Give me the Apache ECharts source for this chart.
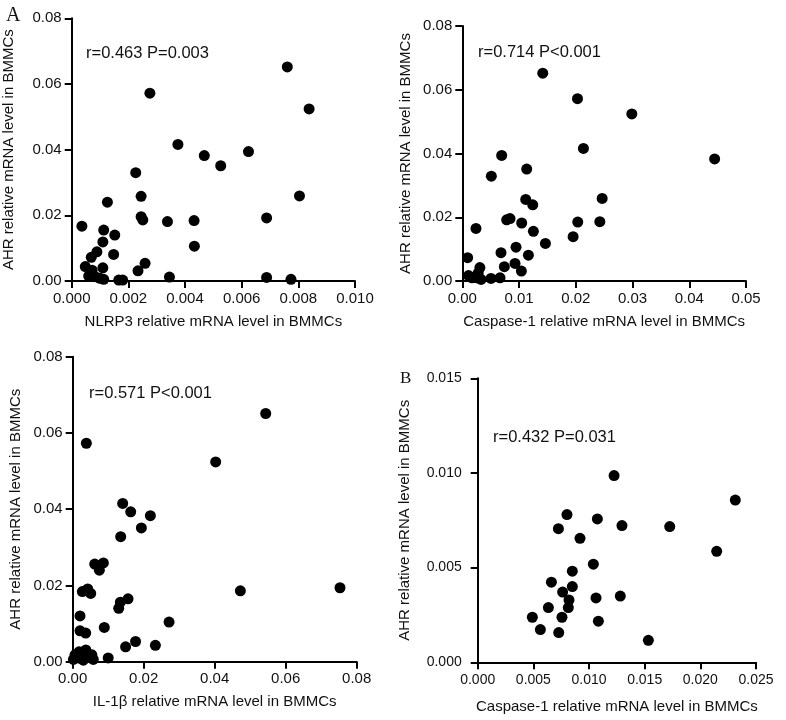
<!DOCTYPE html>
<html>
<head>
<meta charset="utf-8">
<script src="https://cdn.jsdelivr.net/npm/echarts@6/dist/echarts.min.js"></script>
<style>
html,body{margin:0;padding:0;background:#fff;}
#chart{width:786px;height:720px;}
</style>
</head>
<body>
<div id="chart"></div>
<script>
// ---- Data ----
// Panel A1: NLRP3 (x) vs AHR (y)
const nlrp3X = [0.00036,0.00113,0.00152,0.00110,0.00089,0.00069,0.00148,0.00048,0.00110,0.00072,0.00060,0.00083,0.00100,0.00113,0.00166,0.00180,0.00126,0.00226,0.00245,0.00245,0.00251,0.00234,0.00259,0.00276,0.00338,0.00345,0.00375,0.00432,0.00433,0.00468,0.00526,0.00624,0.00688,0.00688,0.00761,0.00774,0.00804,0.00838];
const nlrp3Y = [0.0167,0.0155,0.0140,0.0119,0.0089,0.0072,0.0081,0.0044,0.0040,0.0033,0.0015,0.0013,0.0008,0.0005,0.0003,0.0003,0.0240,0.0330,0.0258,0.0196,0.0186,0.0031,0.0054,0.0572,0.0181,0.0012,0.0416,0.0184,0.0106,0.0382,0.0351,0.0394,0.0192,0.0011,0.0652,0.0005,0.0259,0.0524];

// Panel A2: Caspase-1 (x) vs AHR (y)
const casp1X = [0.01418,0.0203,0.02988,0.02135,0.04447,0.00694,0.01135,0.00512,0.01118,0.01241,0.02465,0.00782,0.00841,0.01047,0.02035,0.02424,0.00241,0.01253,0.01953,0.01465,0.00947,0.00682,0.01165,0.00094,0.00929,0.00741,0.01041,0.0031,0.0028,0.0011,0.0017,0.0025,0.0033,0.00506,0.00665];
const casp1Y = [0.0652,0.0572,0.0524,0.0416,0.0383,0.0394,0.0351,0.0329,0.0256,0.0239,0.0259,0.0192,0.0196,0.0182,0.0185,0.0186,0.0165,0.0156,0.0139,0.0118,0.0106,0.0089,0.0081,0.0073,0.0055,0.0045,0.0031,0.0042,0.0025,0.0017,0.0010,0.0010,0.0005,0.0008,0.0010];

// Panel A3: IL-1beta (x) vs AHR (y)
const il1bX = [0.05437,0.04028,0.00385,0.01408,0.01634,0.02188,0.01934,0.01352,0.0062,0.00864,0.00751,0.00272,0.00423,0.00507,0.04723,0.0753,0.01343,0.01296,0.01559,0.00206,0.00206,0.00366,0.0089,0.02714,0.0177,0.0149,0.02329,0.0100,0.00065,0.0018,0.0037,0.0021,0.0002,0.0044,0.0054,0.0058,0.0030];
const il1bY = [0.0651,0.0524,0.0573,0.0415,0.0393,0.0383,0.0351,0.0328,0.0256,0.0259,0.0240,0.0184,0.0191,0.0179,0.0186,0.0194,0.0156,0.0140,0.0165,0.0120,0.0081,0.0075,0.0090,0.0104,0.0053,0.0039,0.0043,0.0010,0.0018,0.0026,0.0031,0.0009,0.0006,0.0013,0.0018,0.0006,0.0004];

// Panel B: Caspase-1 (x) vs AHR (y)
const bCaspX = [0.01225,0.02314,0.00802,0.01075,0.00725,0.01296,0.01725,0.00919,0.02147,0.01039,0.0085,0.00662,0.00763,0.0085,0.0082,0.01063,0.01281,0.00635,0.00814,0.00491,0.00757,0.01084,0.00563,0.00728,0.01533];
const bCaspY = [0.00986,0.00857,0.0078,0.00757,0.00706,0.00722,0.00717,0.00655,0.00586,0.00518,0.00481,0.00423,0.00371,0.0040,0.00329,0.0034,0.0035,0.00289,0.00289,0.00238,0.00238,0.00217,0.00173,0.00157,0.00116];

// Tick labels
const ticksA1x = ['0.000','0.002','0.004','0.006','0.008','0.010'];
const ticksA1y = ['0.00','0.02','0.04','0.06','0.08'];
const ticksA2x = ['0.00','0.01','0.02','0.03','0.04','0.05'];
const ticksA2y = ['0.00','0.02','0.04','0.06','0.08'];
const ticksA3x = ['0.00','0.02','0.04','0.06','0.08'];
const ticksA3y = ['0.00','0.02','0.04','0.06','0.08'];
const ticksBx = ['0.000','0.005','0.010','0.015','0.020','0.025'];
const ticksBy = ['0.000','0.005','0.010','0.015'];

// Texts
const yTitle = 'AHR relative mRNA level in BMMCs';
const xTitles = ['NLRP3 relative mRNA level in BMMCs','Caspase-1 relative mRNA level in BMMCs','IL-1\u03b2 relative mRNA level in BMMCs','Caspase-1 relative mRNA level in BMMCs'];
const stats = ['r=0.463 P=0.003','r=0.714 P<0.001','r=0.571 P<0.001','r=0.432 P=0.031'];

// ---- Chart ----
const FONT = '"Liberation Sans", Arial, sans-serif';
const SERIF = '"Liberation Serif", "Times New Roman", serif';
const zip = (a, b) => a.map((v, i) => [v, b[i]]);
const fmt = (labels) => (v) => {
  for (const s of labels) { if (Math.abs(parseFloat(s) - v) < 1e-9) return s; }
  return '';
};
function axisCommon(fs, margin) {
  return {
    axisLine: {show: true, lineStyle: {color: '#000', width: 2}},
    axisTick: {show: true, inside: false, length: 7, lineStyle: {color: '#000', width: 2}},
    axisLabel: {color: '#111', fontSize: fs, fontFamily: FONT, margin: margin},
    splitLine: {show: false},
    nameTextStyle: {color: '#111', fontSize: 15, fontFamily: FONT},
    nameLocation: 'middle'
  };
}
const grids = [
  {left: 71.7, top: 18.3, width: 283.3, height: 262.7},
  {left: 462.3, top: 26, width: 283.7, height: 255},
  {left: 72.7, top: 356.7, width: 284, height: 305},
  {left: 477.7, top: 378.3, width: 278.3, height: 284}
];
const xSpecs = [
  {min: 0, max: 0.010, interval: 0.002, labels: ticksA1x, gap: 33, fs: 15, margin: 10},
  {min: 0, max: 0.05, interval: 0.01, labels: ticksA2x, gap: 33, fs: 15, margin: 10},
  {min: 0, max: 0.08, interval: 0.02, labels: ticksA3x, gap: 33, fs: 15, margin: 10},
  {min: 0, max: 0.025, interval: 0.005, labels: ticksBx, gap: 37, fs: 14, margin: 11}
];
const ySpecs = [
  {min: 0, max: 0.08, interval: 0.02, labels: ticksA1y, gap: 55, fs: 15, margin: 10},
  {min: 0, max: 0.08, interval: 0.02, labels: ticksA2y, gap: 49, fs: 15, margin: 10},
  {min: 0, max: 0.08, interval: 0.02, labels: ticksA3y, gap: 49, fs: 15, margin: 10},
  {min: 0, max: 0.015, interval: 0.005, labels: ticksBy, gap: 65, fs: 14, margin: 16}
];
const datasets = [zip(nlrp3X, nlrp3Y), zip(casp1X, casp1Y), zip(il1bX, il1bY), zip(bCaspX, bCaspY)];

const option = {
  backgroundColor: '#fff',
  animation: false,
  grid: grids.map(g => Object.assign({containLabel: false}, g)),
  xAxis: xSpecs.map((s, i) => {
    const a = axisCommon(s.fs, s.margin);
    return Object.assign(a, {
      type: 'value', gridIndex: i, min: s.min, max: s.max, interval: s.interval,
      name: xTitles[i], nameGap: s.gap,
      axisLabel: Object.assign(a.axisLabel, {formatter: fmt(s.labels), showMinLabel: true, showMaxLabel: true})
    });
  }),
  yAxis: ySpecs.map((s, i) => {
    const a = axisCommon(s.fs, s.margin);
    return Object.assign(a, {
      type: 'value', gridIndex: i, min: s.min, max: s.max, interval: s.interval,
      name: yTitle, nameGap: s.gap, nameRotate: 90,
      axisLabel: Object.assign(a.axisLabel, {formatter: fmt(s.labels), showMinLabel: true, showMaxLabel: true})
    });
  }),
  series: datasets.map((d, i) => ({
    type: 'scatter', xAxisIndex: i, yAxisIndex: i, data: d,
    symbol: 'circle', symbolSize: 11,
    itemStyle: {color: '#000', opacity: 1},
    clip: false
  })),
  graphic: [
    {type: 'text', x: 86, y: 53.3, style: {text: stats[0], fontSize: 16.5, fontFamily: FONT, fill: '#111', verticalAlign: 'middle'}},
    {type: 'text', x: 478, y: 52.7, style: {text: stats[1], fontSize: 16.5, fontFamily: FONT, fill: '#111', verticalAlign: 'middle'}},
    {type: 'text', x: 89, y: 393.3, style: {text: stats[2], fontSize: 16.5, fontFamily: FONT, fill: '#111', verticalAlign: 'middle'}},
    {type: 'text', x: 493, y: 437.3, style: {text: stats[3], fontSize: 16.5, fontFamily: FONT, fill: '#111', verticalAlign: 'middle'}},
    {type: 'text', x: 6, y: 16, style: {text: 'A', fontSize: 20, fontFamily: SERIF, fill: '#111', verticalAlign: 'middle'}},
    {type: 'text', x: 400, y: 378.5, style: {text: 'B', fontSize: 17, fontFamily: SERIF, fill: '#111', verticalAlign: 'middle'}}
  ]
};
const chart = echarts.init(document.getElementById('chart'), null, {renderer: 'canvas'});
chart.setOption(option);
</script>
</body>
</html>
